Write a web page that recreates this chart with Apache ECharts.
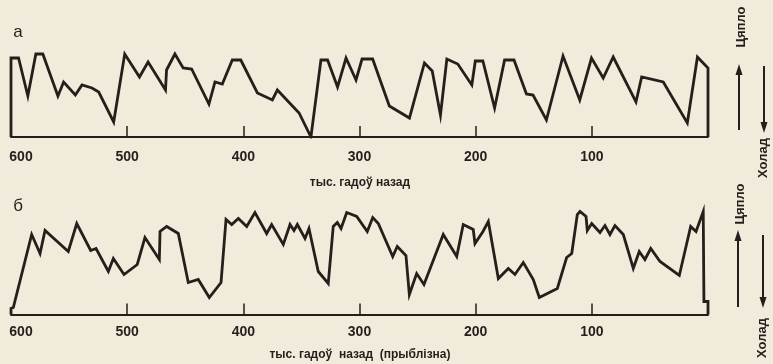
<!DOCTYPE html>
<html>
<head>
<meta charset="utf-8">
<script src="https://cdn.jsdelivr.net/npm/echarts@6/dist/echarts.min.js"></script>
<style>
  html, body { margin: 0; padding: 0; background: #f1ebdc; }
  #chart { width: 773px; height: 364px; }
</style>
</head>
<body>
<div id="chart"></div>
<script>
// panel "а" - thousand years ago / relative temperature index
var aKyr = [600,600,593.5,585.5,578.6,572.6,559.6,554.7,544.6,538.9,530.3,524.5,511.6,502.1,489.4,482,467,466.1,458.9,451.8,
    444.5,429.6,424.4,418.1,409.5,402.2,387.9,375,370.7,352,341.8,333.2,327.5,318.9,311.6,303,297.8,288.7,274.3,257,
    244.1,237.4,230.3,224.8,215.4,203.3,200.3,193.8,183.7,175.1,167,156.3,150.6,139.1,124.8,110.4,100.3,90.2,81.6,62,
    57.1,38.5,17.8,9.1,0,0];
var aTemp = [0,79,79,41,83,83,41,55,42,52,49,45,15,83,60,75,47,67,83,69,
    68,33,55,53,77,77,44,37,47,24,0,77,77,50,79,57,78,78,31,19,
    74,66,22,78,73,52,76,76,29,77,77,43,42,17,81,37,79,59,80,35,
    60,55,14,80,69,0];

// panel "б"
var bKyr = [600,600,598,582.2,575,570.7,550.7,543.4,531.4,526.8,516.2,511.9,502.7,491.3,484.7,472.3,471.7,466,456,447.4,
    438.8,429.3,419.2,414.9,410,404.3,397.1,390,379.9,375.6,365.6,359.8,356.4,353.5,346.9,343.5,335.5,326.9,322.6,319.1,
    315.9,311,302.4,293.3,288.6,283.8,271.4,267.5,260,257.1,250.8,244.5,227.9,216.3,210.7,202.1,200.6,193.7,189.1,180.5,
    171.9,166.2,159,150.4,145.2,129.7,121.7,117.3,112.5,110.2,105,103.9,100.1,93,88.7,84.4,80.1,72.9,64.3,59.2,
    54.3,49.3,41.3,24.7,14.9,10.3,4.1,3.5,0,0];
var bTemp = [0,6,7,80,61,84,63,91,64,66,43,56,40,50,77,55,83,88,81,32,
    35,17,32,95,90,96,88,102,81,90,70,90,84,90,76,86,43,31,88,92,
    86,102,98,83,97,91,58,68,59,20,41,30,80,58,90,85,71,83,93,36,
    46,40,52,35,17,26,57,61,100,103,98,84,91,82,89,80,89,80,46,63,
    55,66,53,39,88,83,103,13,13,0];

var tickValues = [100, 200, 300, 400, 500];
var labelValues = [100, 200, 300, 400, 500, 600];

var ink = '#241f1b';
var font = 'Liberation Sans';

function pairs(xs, ys) {
    return xs.map(function (x, i) { return [x, ys[i]]; });
}

function makeXAxis(idx, margin) {
    return {
        gridIndex: idx,
        type: 'value',
        inverse: true,
        min: 0,
        max: 600,
        interval: 100,
        axisLine: { lineStyle: { color: ink, width: 2 } },
        axisTick: { inside: true, length: 11, customValues: tickValues, lineStyle: { color: ink, width: 1.5 } },
        axisLabel: {
            customValues: labelValues,
            margin: margin,
            color: ink,
            fontFamily: font,
            fontSize: 14,
            fontWeight: 'bold',
            formatter: function (v) { return v === 600 ? '{f|600}' : String(v); },
            rich: { f: { padding: [0, 0, 0, 20], color: ink, fontFamily: font, fontSize: 14, fontWeight: 'bold' } }
        },
        splitLine: { show: false }
    };
}

function arrow(x, y1, y2) {
    // line from y1 to the tip at y2, triangle head at y2
    var dir = y2 < y1 ? -1 : 1;
    return [
        { type: 'line', shape: { x1: x, y1: y1, x2: x, y2: y2 - dir * 8 }, style: { stroke: ink, lineWidth: 2 } },
        { type: 'polygon', shape: { points: [[x, y2], [x - 3.5, y2 - dir * 11], [x + 3.5, y2 - dir * 11]] }, style: { fill: ink } }
    ];
}

function vText(text, x, y) {
    return {
        type: 'text', x: x, y: y, rotation: Math.PI / 2,
        style: { text: text, fill: ink, font: 'bold 13px "Liberation Sans"', align: 'center', verticalAlign: 'middle' }
    };
}

var chart = echarts.init(document.getElementById('chart'));
var option = {
    backgroundColor: '#f1ebdc',
    animation: false,
    grid: [
        { left: 11, right: 65, top: 37, height: 100 },
        { left: 11, right: 65, top: 204.5, height: 110 }
    ],
    xAxis: [makeXAxis(0, 13), makeXAxis(1, 11)],
    yAxis: [
        { gridIndex: 0, type: 'value', min: 0, max: 100, show: false },
        { gridIndex: 1, type: 'value', min: 0, max: 110, show: false }
    ],
    series: [
        {
            type: 'line', xAxisIndex: 0, yAxisIndex: 0, data: pairs(aKyr, aTemp),
            showSymbol: false, lineStyle: { color: ink, width: 2.8, join: 'miter' }
        },
        {
            type: 'line', xAxisIndex: 1, yAxisIndex: 1, data: pairs(bKyr, bTemp),
            showSymbol: false, lineStyle: { color: ink, width: 2.8, join: 'miter' }
        }
    ],
    graphic: [
        { type: 'text', x: 18, y: 32, style: { text: 'а', fill: ink, font: '17px "Liberation Sans"', align: 'center', verticalAlign: 'middle' } },
        { type: 'text', x: 18, y: 206, style: { text: 'б', fill: ink, font: '17px "Liberation Sans"', align: 'center', verticalAlign: 'middle' } },
        { type: 'text', x: 360, y: 183, style: { text: 'тыс. гадоў назад', fill: ink, font: 'bold 12px "Liberation Sans"', align: 'center', verticalAlign: 'middle' } },
        { type: 'text', x: 360, y: 355, style: { text: 'тыс. гадоў  назад  (прыблізна)', fill: ink, font: 'bold 12px "Liberation Sans"', align: 'center', verticalAlign: 'middle' } },
        vText('Цяпло', 741, 27),
        vText('Холад', 763, 158),
        vText('Цяпло', 740, 204),
        vText('Холад', 762, 338)
    ].concat(arrow(739, 130, 64), arrow(764, 66, 133), arrow(738, 307, 230), arrow(763, 235, 308))
};
chart.setOption(option);
</script>
</body>
</html>
